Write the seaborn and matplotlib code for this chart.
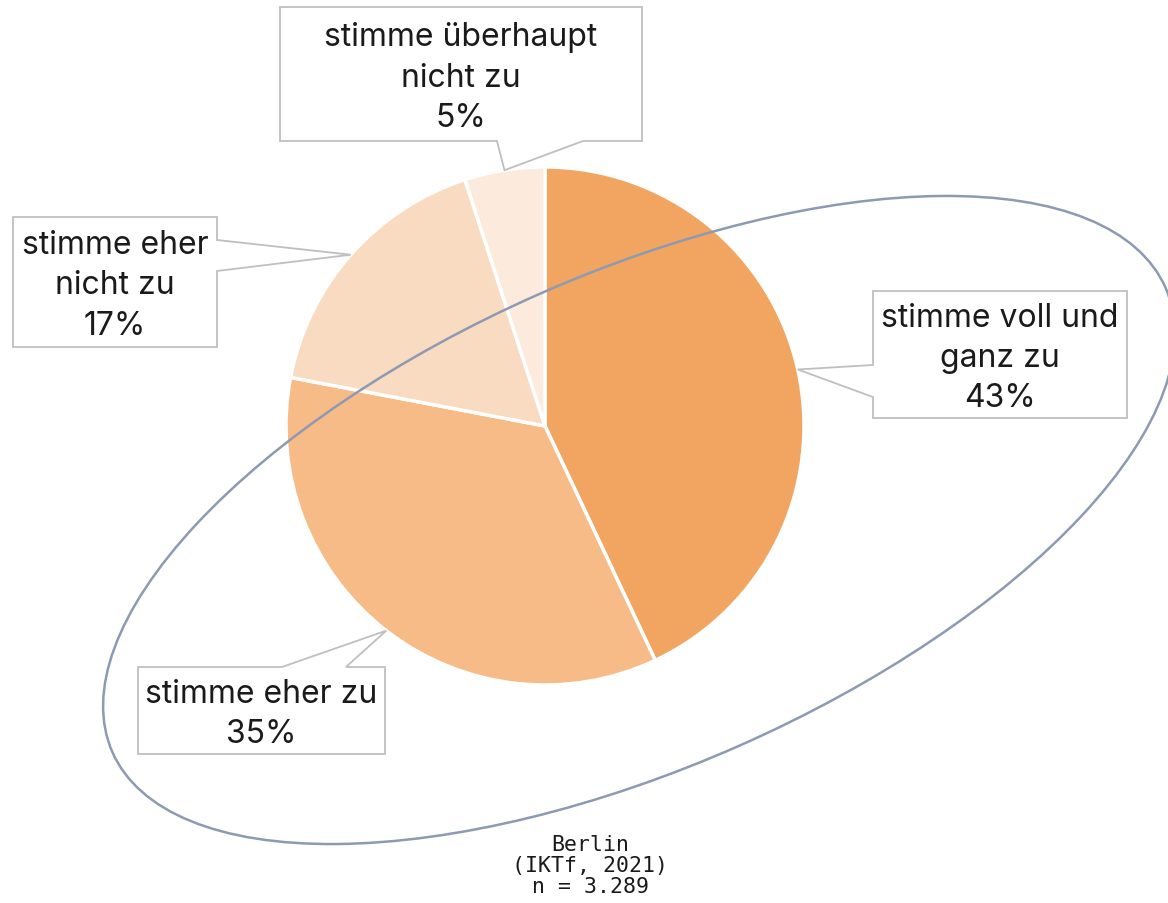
import numpy as np
import matplotlib
matplotlib.use("Agg")
import matplotlib.pyplot as plt
import seaborn as sns
from matplotlib.patches import Polygon, Ellipse

# data
labels = ["stimme voll und\nganz zu", "stimme eher zu", "stimme eher\nnicht zu", "stimme überhaupt\nnicht zu"]
shares = [43, 35, 17, 5]
colors = ["#F2A561", "#F7BB87", "#F9DBC2", "#FCEBDD"]
source_note = "Berlin\n(IKTf, 2021)\nn = 3.289"

sns.set_theme(style="white")
plt.rcParams['font.family'] = ['Inter', 'DejaVu Sans']

W, H = 1168, 904
CX, CY, R = 545, 427, 259   # pie centre / radius in pixels


def px(x, y):
    # pixel position (from top left) -> data units (pie radius = 1)
    return ((x - CX) / R, (CY - y) / R)


fig = plt.figure(figsize=(W / 100, H / 100), dpi=100)
ax = fig.add_axes([0, 0, 1, 1])

ax.pie(shares, colors=colors, startangle=90, counterclock=False, radius=1,
       wedgeprops=dict(edgecolor="white", linewidth=2.5))

x0, y1 = px(0, 0)
x1, y0 = px(W, H)
ax.set_xlim(x0, x1)
ax.set_ylim(y0, y1)
ax.set_aspect("auto")
ax.axis("off")

# the tilted ellipse round the pie
ecx, ecy = px(639, 521)
ax.add_patch(Ellipse((ecx, ecy), 1151 / R, 494 / R, angle=23.8, fill=False,
                     edgecolor="#8D9AB2", linewidth=1.8, zorder=3))

# callout boxes: (left, top, right, bottom), side of pointer, pointer base
boxes = [
    ((873, 292, 1127, 419), "left", (366, 398)),
    ((138, 668, 385, 755), "top", (282, 346)),
    ((13, 218, 217, 348), "right", (241, 272)),
    ((280, 8, 642, 142), "bottom", (497, 583)),
]

cum = np.cumsum(shares) - np.array(shares) / 2
for (box, side, base), lab, val, c in zip(boxes, labels, shares, cum):
    ang = np.deg2rad(90 - 360 * c / sum(shares))
    tip = (np.cos(ang), np.sin(ang))
    l, t, r, b = box
    TL, TR, BR, BL = px(l, t), px(r, t), px(r, b), px(l, b)
    if side == "top":
        pts = [TL, px(base[0], t), tip, px(base[1], t), TR, BR, BL]
    elif side == "right":
        pts = [TL, TR, px(r, base[0]), tip, px(r, base[1]), BR, BL]
    elif side == "bottom":
        pts = [TL, TR, BR, px(base[1], b), tip, px(base[0], b), BL]
    else:
        pts = [TL, TR, BR, BL, px(l, base[1]), tip, px(l, base[0])]
    ax.add_patch(Polygon(pts, closed=True, facecolor="white", edgecolor="#BFBFBF",
                         linewidth=1.3, zorder=4))
    tx, ty = px((l + r) / 2, (t + b) / 2 + 3)
    ax.text(tx, ty, f"{lab}\n{val}%", ha="center", va="center", fontsize=23,
            linespacing=1.39, color="#1A1A1A", zorder=5)

nx, ny = px(590, 866)
ax.text(nx, ny, source_note, ha="center", va="center", fontsize=15.5,
        family="DejaVu Sans Mono", linespacing=1.06, color="#1A1A1A")

plt.savefig("out.png", dpi=100)
